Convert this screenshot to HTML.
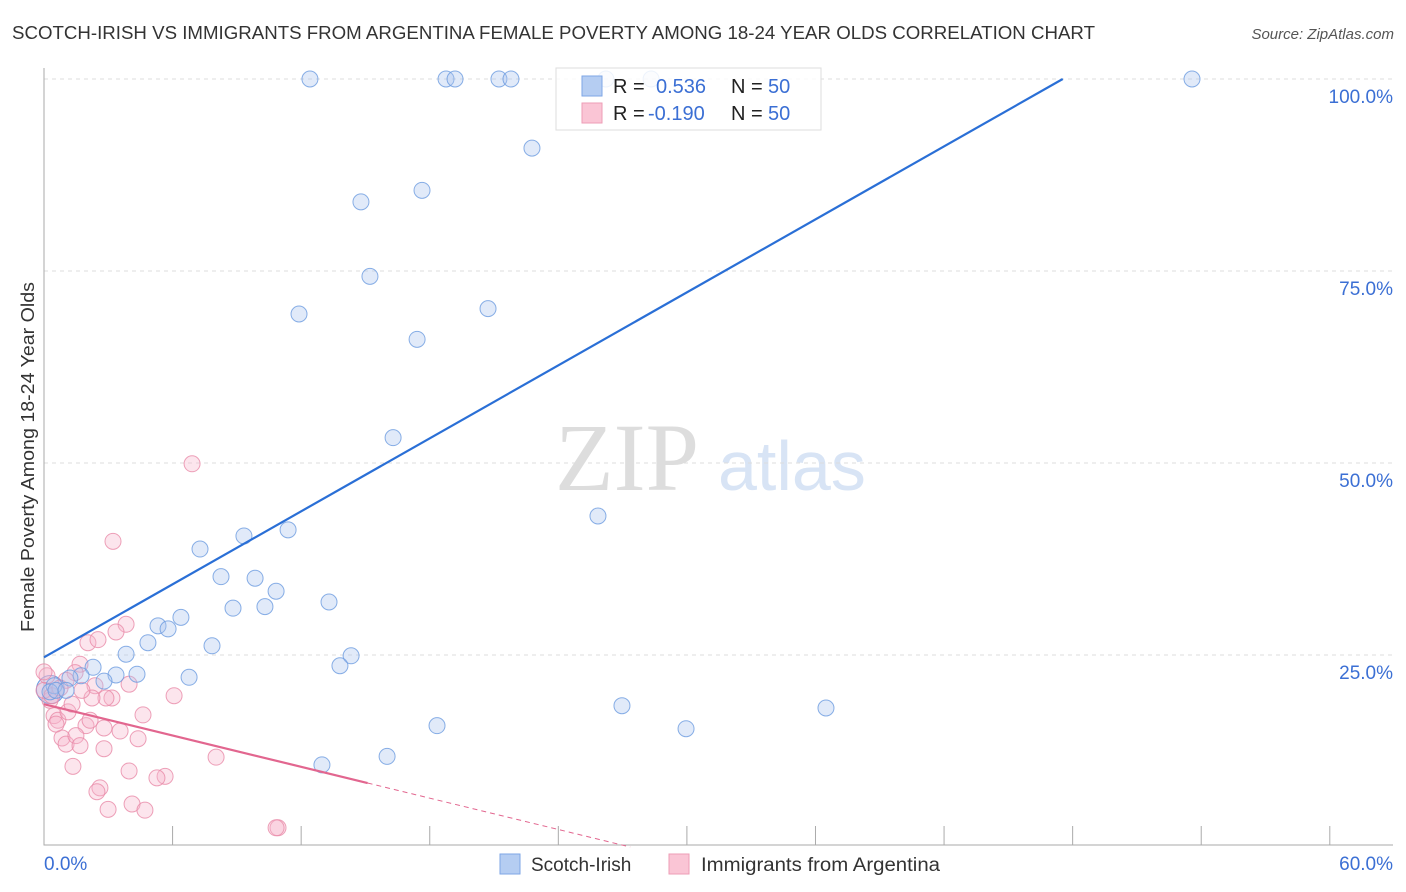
<!DOCTYPE html>
<html><head><meta charset="utf-8"><style>
body{margin:0;background:#fff;font-family:"Liberation Sans",sans-serif;}
svg{display:block}
</style></head><body>
<svg id="chart" width="1406" height="892">
<text x="12" y="39" font-size="18" fill="#333" textLength="1083" lengthAdjust="spacingAndGlyphs">SCOTCH-IRISH VS IMMIGRANTS FROM ARGENTINA FEMALE POVERTY AMONG 18-24 YEAR OLDS CORRELATION CHART</text>
<text x="1394" y="39" font-size="15" fill="#555" font-style="italic" text-anchor="end">Source: ZipAtlas.com</text>
<text transform="translate(34,457) rotate(-90)" font-size="18" fill="#333" text-anchor="middle" textLength="350" lengthAdjust="spacingAndGlyphs">Female Poverty Among 18-24 Year Olds</text>
<g><text x="555" y="490" font-family="Liberation Serif,serif" font-size="96" fill="#ddd">ZIP</text><text x="718" y="490" font-size="70" fill="#d8e4f5">atlas</text></g>
<g id="grid"></g><g id="pts"></g><g id="lines"></g>
<g>
<rect x="556" y="68" width="265" height="62" fill="#fff" fill-opacity="0.85" stroke="#ddd"/>
<rect x="582" y="76" width="20" height="20" fill="#b5cdf2" stroke="#7ea6e6"/>
<rect x="582" y="103" width="20" height="20" fill="#fac5d5" stroke="#ee9db6"/>
<text x="613" y="93" font-size="20" fill="#222">R = <tspan x="656" fill="#3b6fd4">0.536</tspan><tspan x="731">N = </tspan><tspan x="768" fill="#3b6fd4">50</tspan></text>
<text x="613" y="120" font-size="20" fill="#222">R = <tspan x="648" fill="#3b6fd4">-0.190</tspan><tspan x="731">N = </tspan><tspan x="768" fill="#3b6fd4">50</tspan></text>
</g>
<g>
<rect x="500" y="854" width="20" height="20" fill="#b5cdf2" stroke="#7ea6e6"/>
<text x="531" y="871" font-size="19" fill="#333">Scotch-Irish</text>
<rect x="669" y="854" width="20" height="20" fill="#fac5d5" stroke="#ee9db6"/>
<text x="701" y="871" font-size="19" fill="#333" textLength="239" lengthAdjust="spacingAndGlyphs">Immigrants from Argentina</text>
</g>
</svg>
<script>
const blueX=[12.41,18.76,19.18,21.23,21.79,26.22,28.33,53.57,22.77,14.79,17.64,15.21,11.90,20.72,17.41,16.29,25.85,7.28,9.33,11.39,8.26,9.85,10.83,8.82,10.31,13.30,6.39,5.32,5.79,4.85,7.84,3.83,2.29,3.36,4.34,6.77,2.80,1.73,1.21,0.47,0.28,0.56,14.33,13.81,26.97,36.49,18.34,29.96,16.01,12.97,1.03];
const blueY=[100,100,100,100,100,100,100,100,91.0,84.0,85.5,74.3,69.4,70.1,66.1,53.3,43.1,38.8,40.5,41.3,35.2,35.0,33.3,31.1,31.3,31.9,29.9,28.8,28.4,26.6,26.2,25.1,23.4,22.4,22.5,22.1,21.6,22.3,22.0,21.0,20.2,20.4,24.9,23.6,18.4,18.1,15.8,15.4,11.8,10.7,20.4];
const pinkX=[6.91,3.22,3.83,3.36,2.05,2.52,1.68,1.45,1.03,2.38,3.97,6.07,3.17,2.89,2.24,0.14,0.28,0.47,0.65,1.12,1.96,2.80,3.55,4.62,4.39,0.84,1.03,1.49,1.68,2.80,1.35,3.97,8.03,5.65,5.27,2.61,2.47,4.11,2.99,4.71,10.92,10.83,0,0,0.37,0.75,1.31,1.77,2.15,0.56];
const pinkY=[49.9,39.8,29.0,28.0,26.6,27.0,23.8,22.7,21.7,21.0,21.2,19.7,19.4,19.4,19.4,22.3,19.1,17.1,16.5,17.6,15.8,15.5,15.1,17.2,14.1,14.2,13.4,14.5,13.2,12.8,10.5,9.9,11.7,9.2,9.0,7.7,7.2,5.6,4.9,4.8,2.5,2.5,20.4,22.8,19.7,20.7,18.6,20.4,16.5,16.0];
const yTicks=[25,50,75,100];
const xTicks=[0,6,12,18,24,30,36,42,48,54,60];
const blueFit=[24.7,1.584];
const pinkFit=[18.6,-0.68];
const NS="http://www.w3.org/2000/svg";
const sx=v=>44+v*21.43, sy=v=>847-v*7.68;
function mk(tag,attrs,parent){const e=document.createElementNS(NS,tag);for(const k in attrs)e.setAttribute(k,attrs[k]);parent.appendChild(e);return e;}
const grid=document.getElementById('grid');
yTicks.forEach(t=>{
 const l=mk('line',{x1:44,x2:1393,y1:sy(t),y2:sy(t),stroke:'#ddd','stroke-dasharray':'4,4'},grid);
 
 
 const tx=mk('text',{x:1393,y:sy(t)+24,'font-size':19,fill:'#3b6fd4','text-anchor':'end'},grid);
 tx.textContent=t.toFixed(1)+'%';
 
 
});
const ax=mk('path',{d:'M44 68V845H1393',stroke:'#aaa',fill:'none'},grid);


xTicks.forEach(t=>{
 const l=mk('line',{x1:sx(t),x2:sx(t),y1:826,y2:845,stroke:'#aaa'},grid);
 
 
});
[[0,'start'],[60,'end']].forEach(([t,a])=>{
 const tx=mk('text',{x:t?1393:44,y:870,'font-size':19,fill:'#3b6fd4','text-anchor':a},grid);
 tx.textContent=t.toFixed(1)+'%';
 
 
});
const pts=document.getElementById('pts');
const big=mk('circle',{cx:sx(0.3),cy:sy(20.5),r:14,fill:'#a9c4ef','fill-opacity':0.4,stroke:'#6b9be0'},pts);


pinkX.forEach((x,i)=>{
 const c=mk('circle',{cx:sx(x),cy:sy(pinkY[i]),r:8,fill:'#f5b5ca','fill-opacity':0.35,stroke:'#e98aa8','stroke-width':1,'stroke-opacity':0.8},pts);
 
 
});
blueX.forEach((x,i)=>{
 const c=mk('circle',{cx:sx(x),cy:sy(blueY[i]),r:8,fill:'#a9c4ef','fill-opacity':0.35,stroke:'#6b9be0','stroke-width':1,'stroke-opacity':0.8},pts);
 
 
});
const lines=document.getElementById('lines');
const bx2=(100-blueFit[0])/blueFit[1];
const bl=mk('line',{x1:sx(0),y1:sy(blueFit[0]),x2:sx(bx2),y2:sy(100),stroke:'#2a6fd6','stroke-width':2.2},lines);


const pl=mk('line',{x1:sx(0),y1:sy(pinkFit[0]),x2:sx(15.1),y2:sy(pinkFit[0]+pinkFit[1]*15.1),stroke:'#e2668f','stroke-width':2.2},lines);


const px2=-pinkFit[0]/pinkFit[1];
const pd=mk('line',{x1:sx(15.1),y1:sy(pinkFit[0]+pinkFit[1]*15.1),x2:sx(px2),y2:sy(0),stroke:'#e2668f','stroke-width':1,'stroke-dasharray':'5,4'},lines);


</script>
</body></html>
